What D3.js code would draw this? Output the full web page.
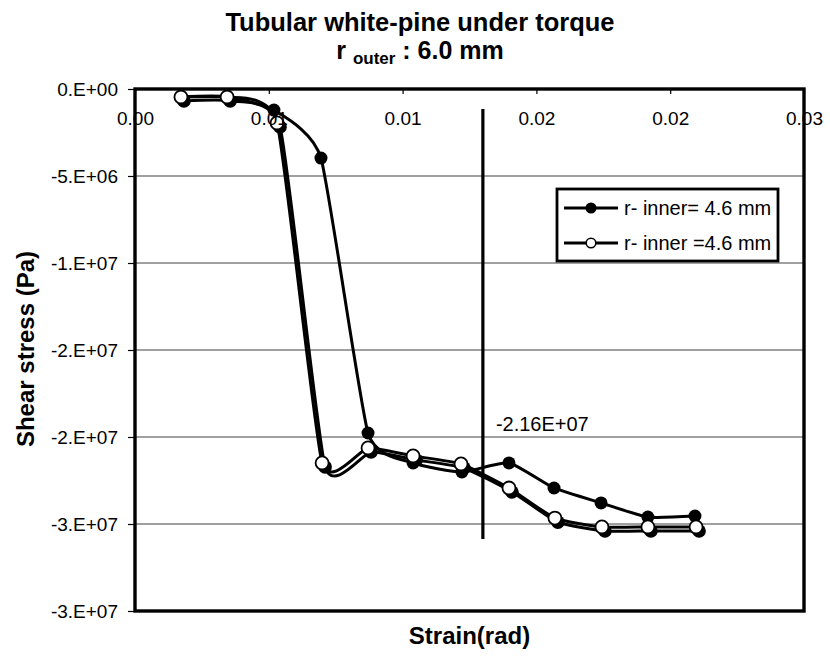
<!DOCTYPE html>
<html>
<head>
<meta charset="utf-8">
<script src="https://cdn.jsdelivr.net/npm/d3@7"></script>
<style>
  html, body { margin: 0; padding: 0; background: #fff; }
  svg { display: block; font-family: "Liberation Sans", Arial, sans-serif; }
</style>
</head>
<body>
<script>
// Strain (rad) at each measurement
const strainClosed = [0.00206, 0.00413, 0.00623, 0.00834, 0.01045, 0.01247, 0.01466, 0.01677, 0.01879, 0.02090, 0.02300, 0.02511];
const stressClosed = [-4.6e5, -4.6e5, -1.21e6, -3.97e6, -1.977e7, -2.149e7, -2.201e7, -2.149e7, -2.293e7, -2.379e7, -2.460e7, -2.454e7];

const strainOpen = [0.00206, 0.00413, 0.00637, 0.00839, 0.01045, 0.01247, 0.01462, 0.01677, 0.01883, 0.02094, 0.02300, 0.02516];
const stressOpen = [-4.6e5, -4.6e5, -1.95e6, -2.149e7, -2.063e7, -2.109e7, -2.155e7, -2.293e7, -2.466e7, -2.517e7, -2.517e7, -2.517e7];

const seriesNames = ["r- inner= 4.6 mm", "r- inner =4.6 mm"];

// Marker line at the strain of interest
const refStrain = 0.0156;
const refStressTop = -1.15e6;
const refStressBottom = -2.586e7;
const refLabel = "-2.16E+07";

const xTickValues = [0, 0.006, 0.012, 0.018, 0.024, 0.03];
const yTickValues = [0, -5e6, -1e7, -1.5e7, -2e7, -2.5e7, -3e7];

const W = 830, H = 669;
const plot = { left: 135, right: 804, top: 89, bottom: 611 };

const x = d3.scaleLinear().domain([0, 0.03]).range([plot.left, plot.right]);
const y = d3.scaleLinear().domain([-3e7, 0]).range([plot.bottom, plot.top]);

// Spreadsheet-style "0.E+00" label
function sciLabel(v) {
  if (v === 0) return "0.E+00";
  const s = v < 0 ? -1 : 1;
  let e = Math.floor(Math.log10(Math.abs(v)));
  let m = Math.round(Math.abs(v) / Math.pow(10, e) + 1e-9);
  if (m >= 10) { m = 1; e += 1; }
  const es = (e >= 0 ? "+" : "-") + String(Math.abs(e)).padStart(2, "0");
  return (s < 0 ? "-" : "") + m + ".E" + es;
}
const xLabel = d3.format(".2f");

const svg = d3.select("body").append("svg").attr("width", W).attr("height", H);
svg.append("rect").attr("width", W).attr("height", H).attr("fill", "#fff");

// Horizontal gridlines
svg.append("g").selectAll("line")
  .data(yTickValues.filter(v => v !== 0 && v !== -3e7))
  .join("line")
  .attr("x1", plot.left).attr("x2", plot.right)
  .attr("y1", d => y(d)).attr("y2", d => y(d))
  .attr("stroke", "#808080").attr("stroke-width", 1.6);

// Reference vertical line and its value label
svg.append("line")
  .attr("x1", x(refStrain)).attr("x2", x(refStrain))
  .attr("y1", y(refStressTop)).attr("y2", y(refStressBottom))
  .attr("stroke", "#000").attr("stroke-width", 3.2);
svg.append("text")
  .attr("x", x(refStrain) + 13).attr("y", y(-2e7) - 6)
  .attr("font-size", 20).attr("fill", "#000")
  .text(refLabel);

const closedPts = strainClosed.map((s, i) => [s, stressClosed[i]]);
const openPts = strainOpen.map((s, i) => [s, stressOpen[i]]);

// Smoothed connecting lines
const line = d3.line().x(d => x(d[0])).y(d => y(d[1])).curve(d3.curveCardinal.tension(0.5));

// Filled-marker series
svg.append("path").attr("d", line(closedPts))
  .attr("fill", "none").attr("stroke", "#000").attr("stroke-width", 3);
svg.append("g").selectAll("circle").data(closedPts).join("circle")
  .attr("cx", d => x(d[0])).attr("cy", d => y(d[1])).attr("r", 6.5)
  .attr("fill", "#000");

// Open-marker series, with its drop shadow
const shadow = svg.append("g").attr("transform", "translate(3,4)");
shadow.append("path").attr("d", line(openPts))
  .attr("fill", "none").attr("stroke", "#000").attr("stroke-width", 3);
shadow.selectAll("circle").data(openPts).join("circle")
  .attr("cx", d => x(d[0])).attr("cy", d => y(d[1])).attr("r", 6.8)
  .attr("fill", "#000");

svg.append("path").attr("d", line(openPts))
  .attr("fill", "none").attr("stroke", "#000").attr("stroke-width", 3);
svg.append("g").selectAll("circle").data(openPts).join("circle")
  .attr("cx", d => x(d[0])).attr("cy", d => y(d[1])).attr("r", 6.5)
  .attr("fill", "#fff").attr("stroke", "#000").attr("stroke-width", 1.8);

// Plot frame
svg.append("rect")
  .attr("x", plot.left).attr("y", plot.top)
  .attr("width", plot.right - plot.left).attr("height", plot.bottom - plot.top)
  .attr("fill", "none").attr("stroke", "#000").attr("stroke-width", 3.4);

// X axis along the top edge (zero stress), labels below it
const xAxis = d3.axisBottom(x).tickValues(xTickValues).tickFormat(xLabel)
  .tickSize(5).tickPadding(18);
const gx = svg.append("g").attr("transform", `translate(0,${plot.top})`).call(xAxis);
gx.select(".domain").remove();
gx.selectAll(".tick line").attr("stroke", "#000").attr("stroke-width", 1.2);
gx.selectAll(".tick text").attr("font-size", 19).attr("font-family", "Liberation Sans, Arial, sans-serif").attr("fill", "#000");

// Y axis on the left edge
const yAxis = d3.axisLeft(y).tickValues(yTickValues).tickFormat(sciLabel)
  .tickSize(7).tickPadding(10);
const gy = svg.append("g").attr("transform", `translate(${plot.left},0)`).call(yAxis);
gy.select(".domain").remove();
gy.selectAll(".tick line").attr("stroke", "#000").attr("stroke-width", 1.2);
gy.selectAll(".tick text").attr("font-size", 19).attr("font-family", "Liberation Sans, Arial, sans-serif").attr("fill", "#000");

// Titles
svg.append("text").attr("x", 420).attr("y", 31)
  .attr("text-anchor", "middle").attr("font-size", 25.5).attr("font-weight", "bold")
  .text("Tubular white-pine under torque");
const sub = svg.append("text").attr("x", 420).attr("y", 59)
  .attr("text-anchor", "middle").attr("font-size", 25).attr("font-weight", "bold");
sub.append("tspan").text("r ");
sub.append("tspan").attr("font-size", 17).attr("dy", 5).text("outer");
sub.append("tspan").attr("dy", -5).text(" : 6.0 mm");

svg.append("text").attr("x", (plot.left + plot.right) / 2).attr("y", 644)
  .attr("text-anchor", "middle").attr("font-size", 24).attr("font-weight", "bold")
  .text("Strain(rad)");
svg.append("text").attr("transform", "translate(34,349) rotate(-90)")
  .attr("text-anchor", "middle").attr("font-size", 24).attr("font-weight", "bold")
  .text("Shear stress (Pa)");

// Legend
const lg = svg.append("g");
lg.append("rect").attr("x", 557).attr("y", 189).attr("width", 221).attr("height", 72)
  .attr("fill", "#fff").attr("stroke", "#000").attr("stroke-width", 2.8);
const rows = [
  { name: seriesNames[0], fill: "#000", cy: 208 },
  { name: seriesNames[1], fill: "#fff", cy: 243 }
];
rows.forEach(r => {
  lg.append("line").attr("x1", 564).attr("x2", 618).attr("y1", r.cy).attr("y2", r.cy)
    .attr("stroke", "#000").attr("stroke-width", 3);
  lg.append("circle").attr("cx", 591).attr("cy", r.cy).attr("r", 4.8)
    .attr("fill", r.fill).attr("stroke", "#000").attr("stroke-width", 1.5);
  lg.append("text").attr("x", 624).attr("y", r.cy + 7).attr("font-size", 20)
    .text(r.name);
});
</script>
</body>
</html>
